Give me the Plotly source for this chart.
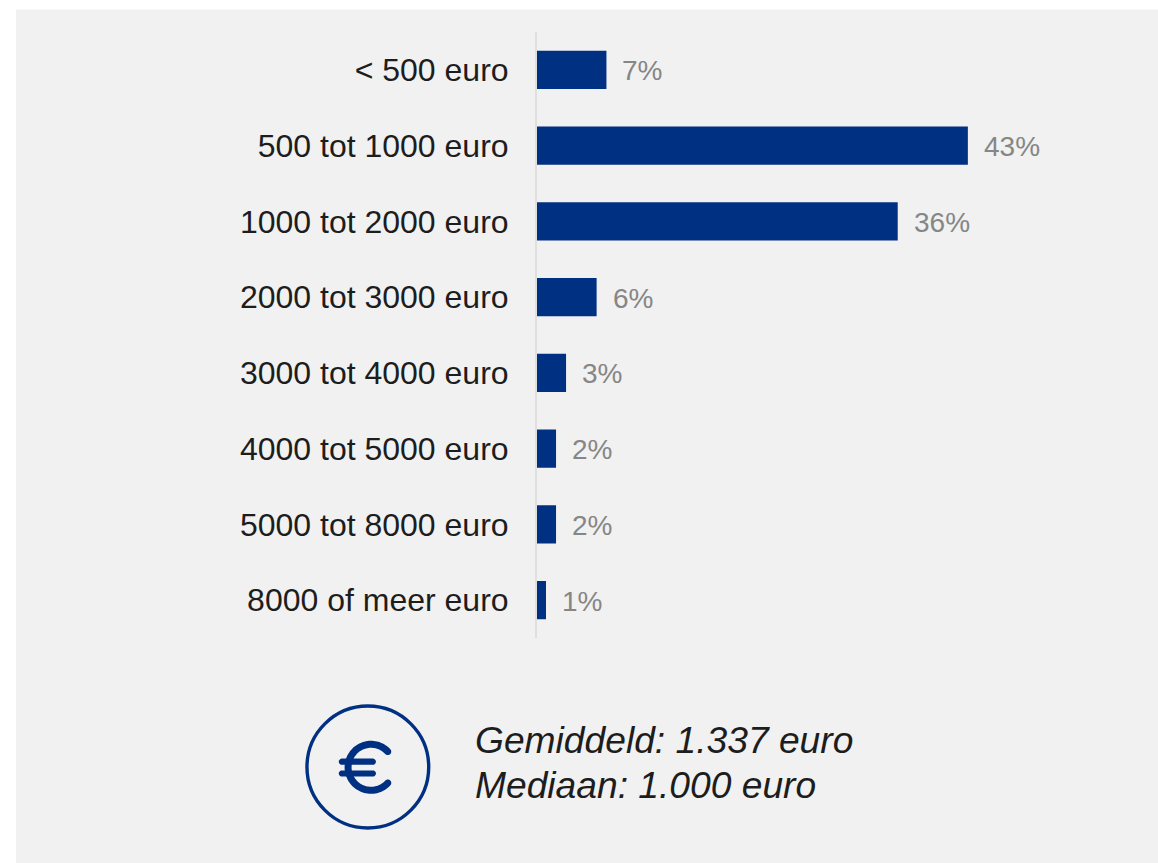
import math
import plotly.graph_objects as go

categories = ["< 500 euro", "500 tot 1000 euro", "1000 tot 2000 euro", "2000 tot 3000 euro",
              "3000 tot 4000 euro", "4000 tot 5000 euro", "5000 tot 8000 euro", "8000 of meer euro"]
values = [6.93, 43, 36, 5.95, 2.9, 1.9, 1.9, 0.9]
value_labels = ["7%", "43%", "36%", "6%", "3%", "2%", "2%", "1%"]
summary_lines = ["Gemiddeld: 1.337 euro", "Mediaan: 1.000 euro"]

W, H = 1158, 863
BLUE = "#003082"
PLOT_L, PLOT_R, PLOT_T, PLOT_B = 536.5, 1038.5, 32, 638


def px(x):
    return (x - PLOT_L) / (PLOT_R - PLOT_L)


def py(y):
    return (PLOT_B - y) / (PLOT_B - PLOT_T)


def poly(points):
    return "M" + "L".join(f"{px(x):.5f},{py(y):.5f}" for x, y in points) + "Z"


def cap(cx, cy, r, start, end, n=10):
    return [(cx + r * math.cos(math.radians(start + (end - start) * i / n)),
             cy + r * math.sin(math.radians(start + (end - start) * i / n))) for i in range(n + 1)]


def euro_arc(cx, cy, r, w, a0, a1, n=80):
    outer = cap(cx, cy, r + w / 2, a0, a1, n)
    inner = cap(cx, cy, r - w / 2, a1, a0, n)
    ea0 = (cx + r * math.cos(math.radians(a0)), cy + r * math.sin(math.radians(a0)))
    ea1 = (cx + r * math.cos(math.radians(a1)), cy + r * math.sin(math.radians(a1)))
    return outer + cap(ea1[0], ea1[1], w / 2, a1, a1 + 180) + inner + cap(ea0[0], ea0[1], w / 2, a0 + 180, a0 + 360)


def pill(x0, x1, y, w):
    return cap(x1, y, w / 2, -90, 90) + cap(x0, y, w / 2, 90, 270)


fig = go.Figure(go.Bar(x=values, y=categories, orientation="h", marker=dict(color=BLUE, line=dict(width=0)),
                       width=0.505, hoverinfo="skip"))

shapes = [
    dict(type="rect", xref="paper", yref="paper", x0=px(14.5), x1=px(W + 4), y0=py(H + 4), y1=py(9.5),
         fillcolor="#f1f1f1", line=dict(width=0), layer="below"),
    dict(type="circle", xref="paper", yref="paper", x0=px(306), x1=px(428), y0=py(828), y1=py(706),
         line=dict(color=BLUE, width=3.4), fillcolor="rgba(0,0,0,0)"),
]
for pts in (euro_arc(370.2, 767.3, 23, 7, 43, 317), pill(341, 372, 761.7, 6.2), pill(341, 372, 773.5, 6.2)):
    shapes.append(dict(type="path", xref="paper", yref="paper", path=poly(pts), fillcolor=BLUE, line=dict(width=0)))

annotations = [
    dict(x=v, y=c, xref="x", yref="y", text=t, showarrow=False, xanchor="left", xshift=14, yshift=-1,
         font=dict(size=28, color="#868686"))
    for v, c, t in zip(values, categories, value_labels)
]
for line, centre in zip(summary_lines, (740, 785)):
    annotations.append(dict(x=px(475), y=py(centre), xref="paper", yref="paper", text=f"<i>{line}</i>", showarrow=False,
                            xanchor="left", yanchor="middle", xshift=-2.5, font=dict(size=37.2, color="#1d1d1d")))

fig.update_layout(
    width=W, height=H, autosize=False, paper_bgcolor="white", plot_bgcolor="rgba(0,0,0,0)",
    font=dict(family="Liberation Sans, Arial, sans-serif"), showlegend=False,
    margin=dict(l=PLOT_L, r=W - PLOT_R, t=PLOT_T, b=H - PLOT_B, pad=0),
    shapes=shapes, annotations=annotations,
    xaxis=dict(range=[0, 50], visible=False, showgrid=False, zeroline=False),
    yaxis=dict(autorange="reversed", type="category", showgrid=False, zeroline=False, showline=True,
               linecolor="#dfdfdf", linewidth=2, ticks="", ticklabelstandoff=20,
               tickfont=dict(size=32, color="#1d1d1d")),
)
fig.write_html("out.html", config=dict(displayModeBar=False),
               post_script="document.body.style.margin='0';document.documentElement.style.overflow='hidden';")
